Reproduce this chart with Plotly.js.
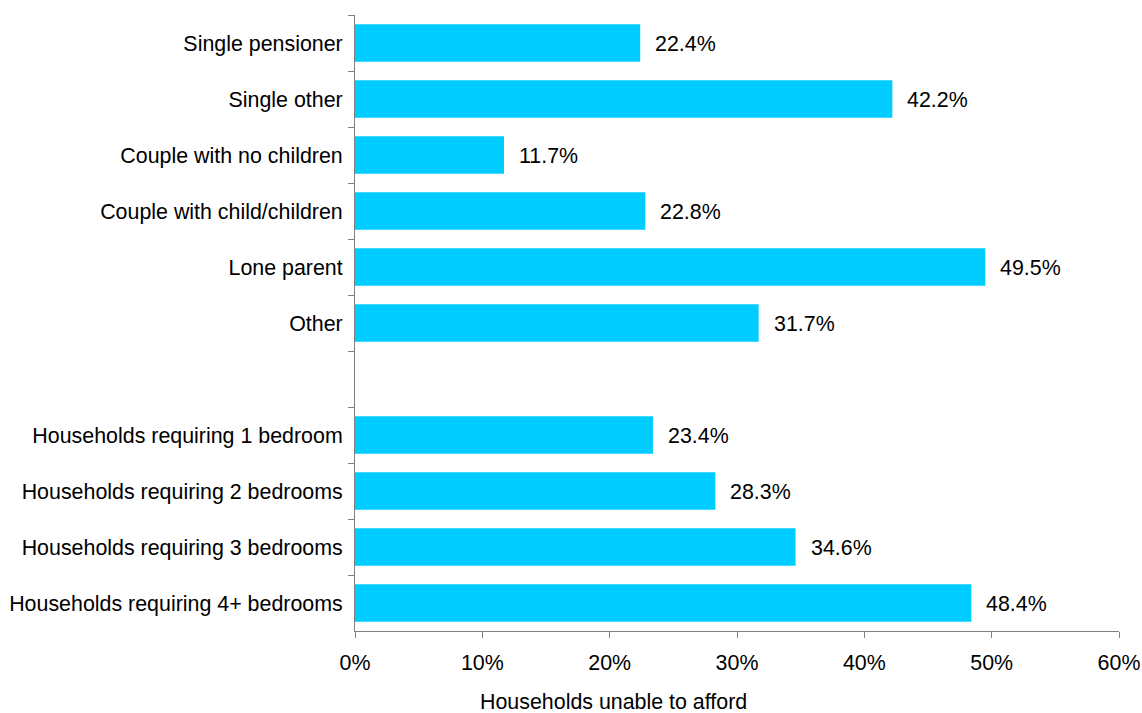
<!DOCTYPE html>
<html>
<head>
<meta charset="utf-8">
<script src="https://cdn.plot.ly/plotly-3.0.1.min.js"></script>
<style>html,body{margin:0;padding:0;background:#fff;}#chart{width:1142px;height:713px;}</style>
</head>
<body>
<div id="chart"></div>
<script>
var categories = [
  "Single pensioner",
  "Single other",
  "Couple with no children",
  "Couple with child/children",
  "Lone parent",
  "Other",
  " ",
  "Households requiring 1 bedroom",
  "Households requiring 2 bedrooms",
  "Households requiring 3 bedrooms",
  "Households requiring 4+ bedrooms"
];
var values = [22.4, 42.2, 11.7, 22.8, 49.5, 31.7, null, 23.4, 28.3, 34.6, 48.4];
var xTicks = [0, 10, 20, 30, 40, 50, 60];
var xTickLabels = ["0%", "10%", "20%", "30%", "40%", "50%", "60%"];
var xTitle = "Households unable to afford";

var FONT = "Liberation Sans, Arial, sans-serif";
var FS = 21.4;

var annotations = [];
for (var i = 0; i < categories.length; i++) {
  if (values[i] === null) continue;
  annotations.push({
    x: values[i], y: categories[i], xref: "x", yref: "y",
    text: values[i].toFixed(1) + "%",
    showarrow: false, xanchor: "left", yanchor: "middle",
    xshift: 13, yshift: -1,
    font: {family: FONT, size: FS, color: "#000"}
  });
}
annotations.push({
  x: 0.339, y: 0, xref: "paper", yref: "paper",
  text: xTitle, showarrow: false, xanchor: "center", yanchor: "middle",
  yshift: -71,
  font: {family: FONT, size: FS, color: "#000"}
});

var trace = {
  type: "bar",
  orientation: "h",
  y: categories,
  x: values,
  width: 0.67,
  marker: {color: "#00CCFF", line: {width: 0}},
  hoverinfo: "skip"
};

var layout = {
  width: 1142, height: 713,
  margin: {l: 355, r: 23, t: 15, b: 82},
  paper_bgcolor: "#fff", plot_bgcolor: "#fff",
  showlegend: false,
  font: {family: FONT, size: FS, color: "#000"},
  xaxis: {
    range: [0, 60],
    tickvals: xTicks, ticktext: xTickLabels,
    showgrid: false, zeroline: false,
    showline: true, linecolor: "#808080", linewidth: 1,
    ticks: "outside", ticklen: 6, tickcolor: "#808080", tickwidth: 1,
    ticklabelstandoff: 6,
    tickfont: {family: FONT, size: FS, color: "#000"}
  },
  yaxis: {
    type: "category",
    categoryorder: "array", categoryarray: categories,
    autorange: "reversed",
    tickson: "boundaries",
    showgrid: false, zeroline: false,
    showline: true, linecolor: "#808080", linewidth: 1,
    ticks: "outside", ticklen: 6, tickcolor: "#808080", tickwidth: 1,
    ticklabelstandoff: 7,
    tickfont: {family: FONT, size: FS, color: "#000"}
  },
  annotations: annotations
};

Plotly.newPlot("chart", [trace], layout, {displayModeBar: false, staticPlot: true});
</script>
</body>
</html>
